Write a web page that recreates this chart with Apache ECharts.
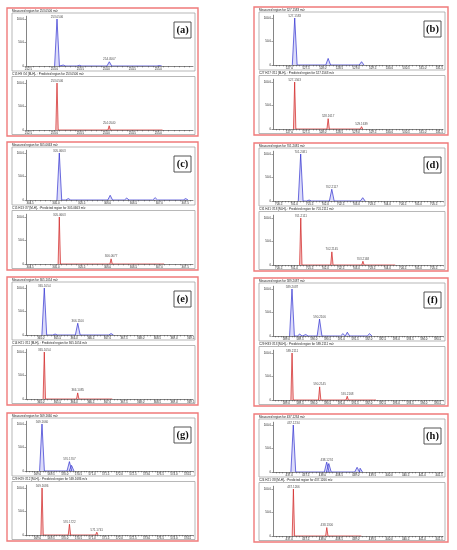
<!DOCTYPE html>
<html>
<head>
<meta charset="utf-8">
<script src="https://cdn.jsdelivr.net/npm/echarts@6/dist/echarts.min.js"></script>
<style>
html, body { margin: 0; padding: 0; background: #fff; }
#main { width: 457px; height: 550px; }
</style>
</head>
<body>
<div id="main"></div>
<script>
// peaks: [m/z, relative intensity %, 1 = labelled]
var a_measured = [[253.0506, 100, 1], [253.17, 2], [253.23, 2], [253.31, 1.5], [253.48, 1.5], [254.0567, 9, 1], [255.02, 1]];
var a_predicted = [[253.0506, 100, 1], [254.0540, 9, 1], [255.0574, 1.5]];
var a_ticks = [252.5, 253.0, 253.5, 254.0, 254.5, 255.0];

var b_measured = [[527.1583, 100, 1], [528.1619, 14], [529.1650, 7]];
var b_predicted = [[527.1563, 100, 1], [528.1617, 22, 1], [529.1639, 5, 1]];
var b_ticks = [527.0, 527.5, 528.0, 528.5, 529.0, 529.5, 530.0, 530.5, 531.0, 531.5];

var c_measured = [[305.0663, 100, 1], [305.24, 3], [306.05, 10], [306.37, 4], [306.92, 5], [307.51, 3]];
var c_predicted = [[305.0663, 100, 1], [306.0677, 11, 1], [307.0700, 1.5]];
var c_ticks = [304.5, 305.0, 305.5, 306.0, 306.5, 307.0, 307.5];

var d_measured = [[701.2081, 100, 1], [701.48, 2], [701.62, 1.5], [702.2117, 25, 1], [703.21, 7]];
var d_predicted = [[701.2111, 100, 1], [702.2145, 28, 1], [703.2168, 8, 1], [704.22, 2]];
var d_ticks = [700.5, 701.0, 701.5, 702.0, 702.5, 703.0, 703.5, 704.0, 704.5, 705.0, 705.5];

var e_measured = [[365.1054, 100, 1], [365.43, 2], [366.1100, 25, 1], [367.11, 3]];
var e_predicted = [[365.1054, 100, 1], [366.1085, 13, 1], [367.11, 2]];
var e_ticks = [365.0, 365.5, 366.0, 366.5, 367.0, 367.5, 368.0, 368.5, 369.0, 369.5];

var f_measured = [[589.2087, 100, 1], [589.49, 4], [589.71, 3], [590.2106, 36, 1], [591.06, 5], [591.22, 8], [592.03, 5]];
var f_predicted = [[589.2111, 100, 1], [590.2145, 28, 1], [591.2168, 8, 1], [592.22, 2]];
var f_ticks = [589.0, 589.5, 590.0, 590.5, 591.0, 591.5, 592.0, 592.5, 593.0, 593.5, 594.0, 594.5];

var g_measured = [[569.1660, 100, 1], [570.1707, 20, 1], [570.25, 12]];
var g_predicted = [[569.1686, 100, 1], [570.1722, 23, 1], [571.1741, 6, 1]];
var g_ticks = [569.0, 569.5, 570.0, 570.5, 571.0, 571.5, 572.0, 572.5, 573.0, 573.5, 574.0, 574.5];

var h_measured = [[437.1234, 100, 1], [438.1274, 21, 1], [438.19, 18], [439.04, 10], [439.13, 8]];
var h_predicted = [[437.1266, 100, 1], [438.1300, 18, 1], [439.13, 4]];
var h_ticks = [437.0, 437.5, 438.0, 438.5, 439.0, 439.5, 440.0, 440.5, 441.0, 441.5];

var yTicks = [0, 50, 100];

var panels = [
    {tag: '(a)', x: 7, y: 8, w: 191, xMin: 252.454, xMax: 255.667, ticks: a_ticks, measured: a_measured, predicted: a_predicted,
        mTitle: 'Measured region for 253.0506 m/z', pTitle: 'C15 H9 O4 [M-H]- : Predicted region for 253.0506 m/z'},
    {tag: '(b)', x: 254, y: 7, w: 194, xMin: 526.506, xMax: 531.61, ticks: b_ticks, measured: b_measured, predicted: b_predicted,
        mTitle: 'Measured region for 527.1583 m/z', pTitle: 'C27 H27 O11 [M-H]- : Predicted region for 527.1563 m/z'},
    {tag: '(c)', x: 7, y: 142, w: 191, xMin: 304.422, xMax: 307.652, ticks: c_ticks, measured: c_measured, predicted: c_predicted,
        mTitle: 'Measured region for 305.0663 m/z', pTitle: 'C15 H13 O7 [M-H]- : Predicted region for 305.0663 m/z'},
    {tag: '(d)', x: 254, y: 143, w: 194, xMin: 700.315, xMax: 705.8, ticks: d_ticks, measured: d_measured, predicted: d_predicted,
        mTitle: 'Measured region for 701.2081 m/z', pTitle: 'C31 H41 O18 [M-H]- : Predicted region for 701.2111 m/z'},
    {tag: '(e)', x: 7, y: 277, w: 191, xMin: 364.556, xMax: 369.57, ticks: e_ticks, measured: e_measured, predicted: e_predicted,
        mTitle: 'Measured region for 365.1054 m/z', pTitle: 'C14 H21 O11 [M-H]- : Predicted region for 365.1054 m/z'},
    {tag: '(f)', x: 254, y: 278, w: 194, xMin: 588.518, xMax: 594.70, ticks: f_ticks, measured: f_measured, predicted: f_predicted,
        mTitle: 'Measured region for 589.2087 m/z', pTitle: 'C29 H33 O13 [M-H]- : Predicted region for 589.2111 m/z'},
    {tag: '(g)', x: 7, y: 413, w: 191, xMin: 568.58, xMax: 574.70, ticks: g_ticks, measured: g_measured, predicted: g_predicted,
        mTitle: 'Measured region for 569.1660 m/z', pTitle: 'C29 H29 O12 [M-H]- : Predicted region for 569.1686 m/z'},
    {tag: '(h)', x: 254, y: 414, w: 194, xMin: 436.514, xMax: 441.62, ticks: h_ticks, measured: h_measured, predicted: h_predicted,
        mTitle: 'Measured region for 437.1234 m/z', pTitle: 'C24 H21 O8 [M-H]- : Predicted region for 437.1266 m/z'}
];

var PH = 128;
var myChart = echarts.init(document.getElementById('main'), null, {renderer: 'canvas'});

var grids = [], xAxes = [], yAxes = [], series = [], graphics = [];

function each(arr, fn) { for (var i = 0; i < arr.length; i++) fn(i, arr[i]); }

function profile(peaks, hw) {
    var pts = [];
    peaks.slice().sort(function (p, q) { return p[0] - q[0]; }).forEach(function (p) {
        pts.push([p[0] - hw, 0], [p[0], p[1]], [p[0] + hw, 0]);
    });
    return pts;
}

function minorTicks(p) {
    var out = [];
    var start = p.ticks[0] - 1;
    for (var i = 0; start + i * 0.1 <= p.xMax; i++) {
        var v = +(start + i * 0.1).toFixed(2);
        if (v >= p.xMin) out.push(v);
    }
    return out;
}

each(panels, function (k, p) {
    var gw = p.w - 24;
    var pxUnit = (p.xMax - p.xMin) / gw;
    var subs = [
        {top: 8.2, peaks: p.measured, line: '#2f2fd0', area: 'rgba(110,110,235,0.35)', hw: 2.4 * pxUnit, title: p.mTitle, boxTop: 5, titleY: 2.8},
        {top: 72.2, peaks: p.predicted, line: '#d02020', area: 'rgba(225,70,70,0.4)', hw: 1.2 * pxUnit, title: p.pTitle, boxTop: 68.5, titleY: 66.3}
    ];

    // panel frame
    graphics.push({type: 'rect', shape: {x: p.x, y: p.y, width: p.w, height: PH},
        style: {fill: 'none', stroke: '#f07a7a', lineWidth: 1.4}, silent: true});

    each(subs, function (j, s) {
        var idx = grids.length;
        graphics.push({type: 'rect', shape: {x: p.x + 5, y: p.y + s.boxTop, width: p.w - 8, height: 58},
            style: {fill: 'none', stroke: '#999', lineWidth: 0.7}, silent: true});
        graphics.push({type: 'text', x: p.x + 5, y: p.y + s.titleY,
            style: {text: s.title, fontSize: 3, fill: '#222', fontFamily: 'Arial, Liberation Sans', verticalAlign: 'middle'}, silent: true});

        grids.push({left: p.x + 19, top: p.y + s.top, width: gw, height: 49.8, containLabel: false, outerBoundsMode: 'none'});
        xAxes.push({
            type: 'value', gridIndex: idx, min: p.xMin, max: p.xMax,
            axisLine: {show: true, lineStyle: {color: '#333', width: 0.6}},
            axisTick: {show: true, customValues: minorTicks(p), length: 1.4, lineStyle: {color: '#444', width: 0.5}},
            axisLabel: {customValues: p.ticks, fontSize: 2.9, margin: 1.5, color: '#222',
                formatter: function (v) { return v.toFixed(1); }},
            splitLine: {show: false}
        });
        yAxes.push({
            type: 'value', gridIndex: idx, min: 0, max: 106,
            axisLine: {show: true, lineStyle: {color: '#333', width: 0.6}},
            axisTick: {show: true, customValues: yTicks, length: 1.6, lineStyle: {color: '#444', width: 0.5}},
            axisLabel: {customValues: yTicks, fontSize: 2.9, margin: 2, color: '#222',
                formatter: function (v) { return v === 0 ? '0' : v.toFixed(1); }},
            splitLine: {show: false}
        });
        series.push({
            type: 'line', xAxisIndex: idx, yAxisIndex: idx, data: profile(s.peaks, s.hw),
            showSymbol: false, silent: true, animation: false,
            lineStyle: {color: s.line, width: 0.7},
            areaStyle: {color: s.area}
        });
        series.push({
            type: 'scatter', xAxisIndex: idx, yAxisIndex: idx, symbolSize: 0, silent: true, animation: false,
            data: s.peaks.filter(function (q) { return q[2]; }).map(function (q) { return [q[0], q[1]]; }),
            label: {show: true, position: 'top', distance: 0.8, fontSize: 3, color: '#222',
                formatter: function (d) { return d.value[0].toFixed(4); }}
        });
    });

    // panel tag box
    graphics.push({type: 'rect', shape: {x: p.x + p.w - 24, y: p.y + 14, width: 17, height: 16},
        style: {fill: '#fff', stroke: '#444', lineWidth: 0.9}, silent: true});
    graphics.push({type: 'text', x: p.x + p.w - 15.5, y: p.y + 22.3,
        style: {text: p.tag, fontSize: 10.5, fontWeight: 'bold', fill: '#111', fontFamily: 'Liberation Serif, DejaVu Serif, serif',
            align: 'center', verticalAlign: 'middle'}, silent: true});
});

myChart.setOption({
    backgroundColor: '#fff',
    animation: false,
    grid: grids,
    xAxis: xAxes,
    yAxis: yAxes,
    series: series,
    graphic: graphics
});
</script>
</body>
</html>
